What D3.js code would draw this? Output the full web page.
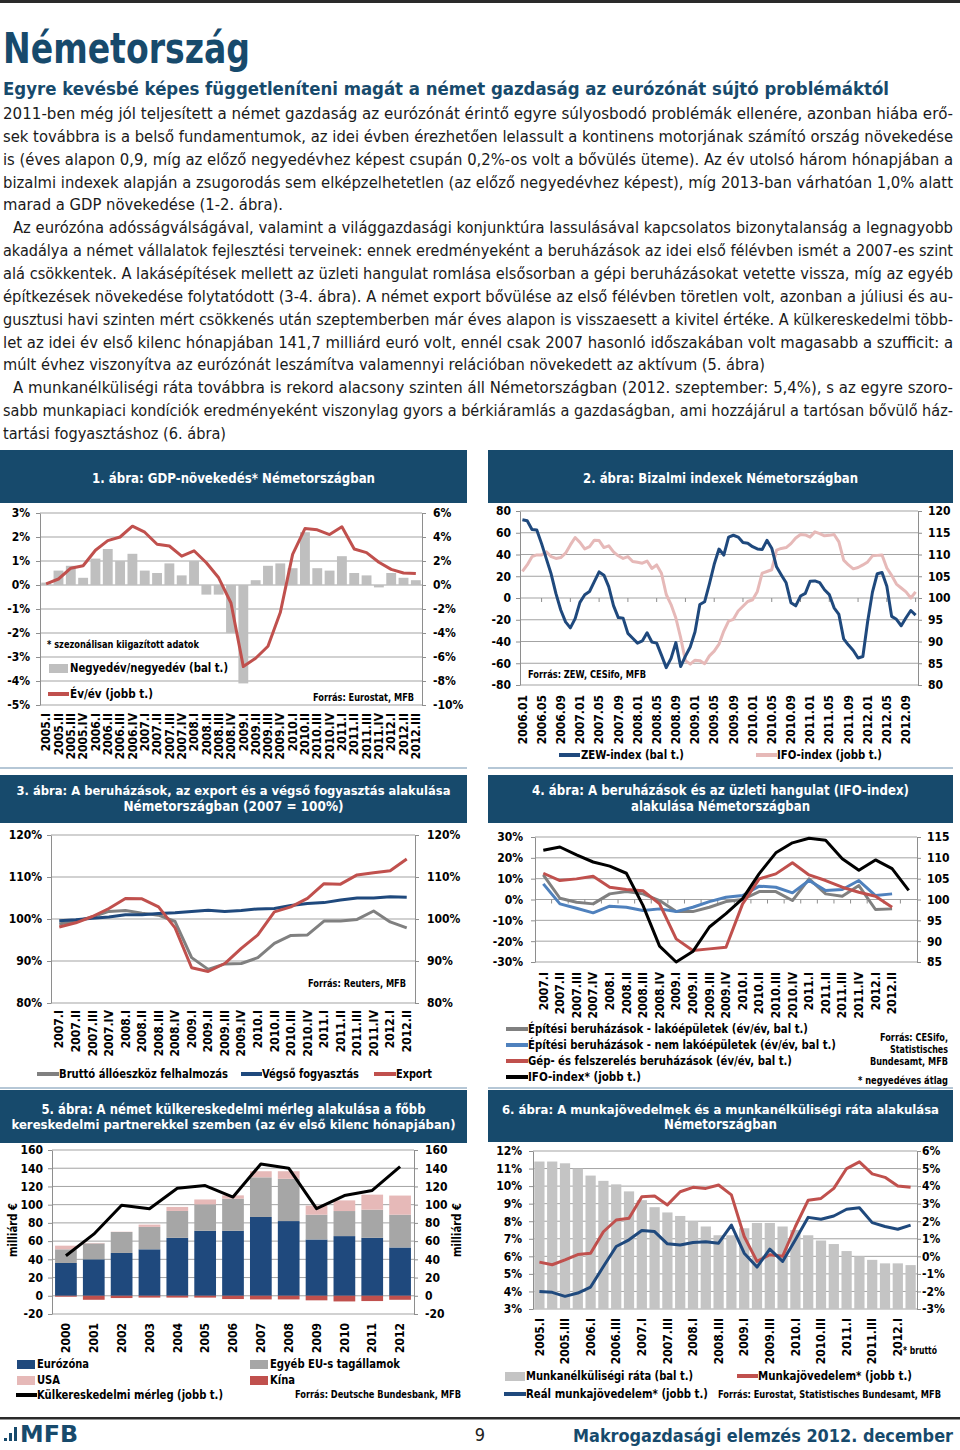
<!DOCTYPE html>
<html><head><meta charset="utf-8">
<script src="https://cdn.jsdelivr.net/npm/d3@7"></script>
<style>body{margin:0;background:#fff}svg{display:block}</style>
</head><body>
<svg id="c" width="960" height="1450"></svg>
<script>
// ---------------- DATA ----------------
const gdpQuarters = ["2005.I","2005.II","2005.III","2005.IV","2006.I","2006.II","2006.III","2006.IV","2007.I","2007.II","2007.III","2007.IV","2008.I","2008.II","2008.III","2008.IV","2009.I","2009.II","2009.III","2009.IV","2010.I","2010.II","2010.III","2010.IV","2011.I","2011.II","2011.III","2011.IV","2012.I","2012.II","2012.III"];
const gdpQoQ = [0.1,0.6,0.8,0.3,1.1,1.5,1.0,1.3,0.6,0.5,0.9,0.4,1.0,-0.4,-0.4,-2.0,-4.1,0.2,0.8,0.9,0.7,2.2,0.7,0.6,1.2,0.5,0.4,-0.1,0.5,0.3,0.2];
const gdpYoY = [0.1,0.5,1.4,1.6,2.9,3.7,4.0,4.9,4.4,3.4,3.25,2.4,2.85,1.85,0.6,-1.5,-6.8,-6.1,-5.1,-2.3,2.55,4.7,4.6,4.2,4.85,3.0,2.7,1.9,1.3,1.0,0.95];
const gdpTicksL = [3,2,1,0,-1,-2,-3,-4,-5];
const gdpTicksR = [6,4,2,0,-2,-4,-6,-8,-10];

const sentYears = ["2006","2007","2008","2009","2010","2011","2012"];
const sentMonthNums = ["01","02","03","04","05","06","07","08","09","10","11","12"];
const zew = [72,71,63,62.5,50,36,22,4,-11,-22,-27.5,-19,
  -4,3,6,15,24,21,10.5,-7,-18,-18.5,-32.5,-37,
  -41.5,-39.5,-32,-40.5,-41.5,-52.5,-64,-55.5,-41,-63,-53.5,-45,
  -31,-6,-3.5,13,31,45,39.5,56,57.7,56,51,50.4,
  47.2,45.1,44.5,53,45.8,28.7,21.2,14,-4.3,-7.2,1.8,4.3,
  15.4,15.7,14.1,7.6,3.1,-9,-15.1,-37.6,-43.3,-48.3,-55.2,-53.8,
  -21.6,5.4,22.3,23.4,10.8,-16.9,-19.6,-25.5,-18.2,-11.5,-15.7];
const ifo = [106.1,107.6,109.5,109.9,109.9,110.6,109.5,109.1,109.3,110.3,112.2,113.9,
  112.8,111.3,111.8,113.3,113.2,111.6,112.0,110.6,109.7,109.1,109.5,108.4,
  108.2,108.0,108.5,106.8,107.6,105.7,100.8,98.5,95.4,90.9,85.6,84.8,
  85.7,85.6,84.9,86.7,87.8,89.4,92.4,94.7,95.1,97.0,98.1,99.2,
  99.6,101.5,105.7,106.1,106.5,111.0,111.4,111.6,112.5,113.8,114.6,114.5,
  114.0,115.2,114.8,114.3,114.4,114.6,112.9,108.7,107.6,106.7,107.0,107.6,
  108.3,109.7,109.8,109.9,106.9,105.2,103.2,102.3,101.4,100.0,101.4];
const sentTicksL = [80,60,40,20,0,-20,-40,-60,-80];
const sentTicksR = [120,115,110,105,100,95,90,85,80];

const invQuarters = ["2007.I","2007.II","2007.III","2007.IV","2008.I","2008.II","2008.III","2008.IV","2009.I","2009.II","2009.III","2009.IV","2010.I","2010.II","2010.III","2010.IV","2011.I","2011.II","2011.III","2011.IV","2012.I","2012.II"];
const brutto = [98.8,99.5,100.5,101.8,102.0,101.4,100.9,99.4,90.8,88.0,89.3,89.4,90.8,94.2,96.1,96.2,99.5,99.5,99.9,101.9,99.3,97.9];
const vegso = [99.6,99.8,100.2,100.5,101.0,101.0,101.3,101.5,101.8,102.1,101.8,102.0,102.4,102.5,103.2,103.7,103.9,104.5,105.0,105.0,105.3,105.2];
const exportIdx = [98.1,99.1,100.6,102.5,104.9,104.8,102.9,97.9,88.4,87.5,89.4,93.0,96.2,101.7,102.9,104.9,108.4,108.3,110.5,111.0,111.5,114.3];
const invTicks = [120,110,100,90,80];

const ifoQuarters = ["2007.I","2007.II","2007.III","2007.IV","2008.I","2008.II","2008.III","2008.IV","2009.I","2009.II","2009.III","2009.IV","2010.I","2010.II","2010.III","2010.IV","2011.I","2011.II","2011.III","2011.IV","2012.I","2012.II","2012.III"];
const lakoEp = [11.8,0.6,-1.3,-2.1,2.7,3.8,2.7,-0.5,-5.8,-5.8,-3.7,-1.0,0.0,3.8,3.8,-0.5,9.9,2.7,1.6,6.7,-4.8,-4.5];
const nemLakoEp = [7.5,-2.1,-4.2,-6.4,-3.2,-3.7,-5.3,-4.5,-5.8,-3.7,-1.0,1.1,1.9,6.4,5.9,3.2,9.1,4.3,4.8,9.1,1.9,2.7];
const gepBeruh = [12.6,9.1,9.9,11.2,5.9,4.8,4.2,-2.1,-18.9,-24.5,-23.7,-22.9,-2.1,9.9,12.3,17.6,11.8,9.1,5.9,3.5,1.6,-3.7];
const ifoQuarterly = [111.8,112.6,110.7,109.0,108.0,106.3,98.6,88.8,85.0,87.5,93.4,96.6,100.2,106.2,111.2,113.6,114.7,114.2,109.8,107.0,109.5,107.4,102.2];
const c4TicksL = [30,20,10,0,-10,-20,-30];
const c4TicksR = [115,110,105,100,95,90,85];

const tradeYears = ["2000","2001","2002","2003","2004","2005","2006","2007","2008","2009","2010","2011","2012"];
const tradeEuro = [36,40,47,51,63.6,71.3,71.3,86.5,82,61.8,65.5,63.6,53];
const tradeOtherEU = [15,17.5,23,24.6,29.5,29,35.3,43.5,46.4,27.2,27.5,30.9,36];
const tradeUSA = [4,0.5,0.3,2.5,4.4,5.4,3.6,6.7,8.3,10,11.7,16.5,21];
const tradeChina = [-1,-4.4,-2.5,-2,-2,-2,-3.6,-4,-4,-5,-6.2,-5.8,-4.4];
const tradeBalance = [44,67.6,99.3,95.6,118,121,108.4,144.7,140,95.6,110,115.6,141.7];
const tradeTicks = [160,140,120,100,80,60,40,20,0,-20];

const labQuarters = ["2005.I","2005.II","2005.III","2005.IV","2006.I","2006.II","2006.III","2006.IV","2007.I","2007.II","2007.III","2007.IV","2008.I","2008.II","2008.III","2008.IV","2009.I","2009.II","2009.III","2009.IV","2010.I","2010.II","2010.III","2010.IV","2011.I","2011.II","2011.III","2011.IV","2012.I","2012.II"];
const unemployment = [11.4,11.4,11.3,11.0,10.6,10.3,10.1,9.7,9.2,8.8,8.5,8.3,8.0,7.7,7.2,7.2,7.6,7.9,7.9,7.7,7.5,7.2,6.9,6.7,6.3,6.0,5.8,5.6,5.6,5.5];
const wages = [-0.33,-0.48,-0.2,0.1,0.18,1.4,2.07,2.17,3.4,3.44,2.93,3.68,3.93,3.87,4.06,3.5,1.13,-0.29,0.09,0.0,1.7,3.2,3.3,3.87,5.0,5.38,4.7,4.5,4.0,3.93];
const realWages = [-2.0,-2.05,-2.28,-2.09,-1.75,-0.58,0.56,0.94,1.47,1.41,0.71,0.65,0.79,0.83,0.75,1.78,0.18,-0.61,0.41,-0.29,0.94,2.22,2.11,2.3,2.68,2.77,1.92,1.7,1.54,1.78];
const c6TicksL = [12,11,10,9,8,7,6,5,4,3];
const c6TicksR = [6,5,4,3,2,1,0,-1,-2,-3];

const bodyLines = [
 "2011-ben még jól teljesített a német gazdaság az eurózónát érintő egyre súlyosbodó problémák ellenére, azonban hiába erő-",
 "sek továbbra is a belső fundamentumok, az idei évben érezhetően lelassult a kontinens motorjának számító ország növekedése",
 "is (éves alapon 0,9, míg az előző negyedévhez képest csupán 0,2%-os volt a bővülés üteme). Az év utolsó három hónapjában a",
 "bizalmi indexek alapján a zsugorodás sem elképzelhetetlen (az előző negyedévhez képest), míg 2013-ban várhatóan 1,0% alatt",
 "marad a GDP növekedése (1-2. ábra).",
 "Az eurózóna adósságválságával, valamint a világgazdasági konjunktúra lassulásával kapcsolatos bizonytalanság a legnagyobb",
 "akadálya a német vállalatok fejlesztési terveinek: ennek eredményeként a beruházások az idei első félévben ismét a 2007-es szint",
 "alá csökkentek. A lakásépítések mellett az üzleti hangulat romlása elsősorban a gépi beruházásokat vetette vissza, míg az egyéb",
 "építkezések növekedése folytatódott (3-4. ábra). A német export bővülése az első félévben töretlen volt, azonban a júliusi és au-",
 "gusztusi havi szinten mért csökkenés után szeptemberben már éves alapon is visszaesett a kivitel értéke. A külkereskedelmi több-",
 "let az idei év első kilenc hónapjában 141,7 milliárd euró volt, ennél csak 2007 hasonló időszakában volt magasabb a szufficit: a",
 "múlt évhez viszonyítva az eurózónát leszámítva valamennyi relációban növekedett az aktívum (5. ábra)",
 "A munkanélküliségi ráta továbbra is rekord alacsony szinten áll Németországban (2012. szeptember: 5,4%), s az egyre szoro-",
 "sabb munkapiaci kondíciók eredményeként viszonylag gyors a bérkiáramlás a gazdaságban, ami hozzájárul a tartósan bővülő ház-",
 "tartási fogyasztáshoz (6. ábra)"
];

// ---------------- DRAWING ----------------
const F = "'DejaVu Sans Condensed','DejaVu Sans',sans-serif";
const NAVY = "#174a6c";
const GRID = "#a3a3a3";
const AXC = "#8e8e8e";
const svg = d3.select("#c");
svg.append("rect").attr("width",960).attr("height",1450).attr("fill","#fff");

function T(p, x, y, s, o = {}) {
  const t = p.append("text").attr("x", x).attr("y", y).text(s)
    .attr("font-family", o.family || F).attr("font-size", o.size || 12)
    .attr("font-weight", o.weight || "bold").attr("fill", o.fill || "#000")
    .attr("text-anchor", o.anchor || "start");
  if (o.w) t.attr("textLength", o.w).attr("lengthAdjust", "spacingAndGlyphs");
  if (o.tr) t.attr("transform", o.tr);
  return t;
}

// header
svg.append("rect").attr("x",0).attr("y",0).attr("width",960).attr("height",3).attr("fill","#2a2a2a");
T(svg, 3, 63, "Németország", {size:42, fill:NAVY, w:247});
T(svg, 3, 95, "Egyre kevésbé képes függetleníteni magát a német gazdaság az eurózónát sújtó problémáktól", {size:17, fill:NAVY, w:886});
const bodyX = [3,3,3,3,3,13,3,3,3,3,3,3,13,3,3];
const bodyW = [950,950,950,950,280,940,950,950,950,950,950,762,940,950,223];
bodyLines.forEach((s,i) => T(svg, bodyX[i], 119 + i*22.86, s, {size:15.5, weight:"normal", fill:"#1a1a1a", w:bodyW[i]}));

// footer
svg.append("rect").attr("x",0).attr("y",1417).attr("width",960).attr("height",2.5).attr("fill","#2a2a2a");
[[4,1438,3,3],[9,1433,3,8],[14,1427,3,14]].forEach(r => svg.append("rect").attr("x",r[0]).attr("y",r[1]).attr("width",r[2]).attr("height",r[3]).attr("fill",NAVY));
T(svg, 20, 1442, "MFB", {size:23, fill:NAVY, w:58});
T(svg, 480, 1441, "9", {size:18, weight:"normal", anchor:"middle", fill:"#222"});
T(svg, 953, 1442, "Makrogazdasági elemzés 2012. december", {size:18, fill:NAVY, anchor:"end", w:380});

function banner(x, y, w, h, lines, widths, ys, sizes) {
  svg.append("rect").attr("x",x).attr("y",y).attr("width",w).attr("height",h).attr("fill",NAVY);
  lines.forEach((s,i) => T(svg, x + w/2, ys[i], s, {size:(sizes ? sizes[i] : 14), fill:"#fff", anchor:"middle", w:widths[i]}));
}
function sep(x1, x2, y) {
  svg.append("line").attr("x1",x1).attr("x2",x2).attr("y1",y).attr("y2",y).attr("stroke","#9db5c9").attr("stroke-width",1.5);
}

function plot(c) {
  const g = svg.append("g");
  const yL = d3.scaleLinear().domain(c.domL).range([c.y1, c.y0]);
  const yR = d3.scaleLinear().domain(c.domR).range([c.y1, c.y0]);
  const xb = d3.scaleBand().domain(c.cats).range([c.x0, c.x1]).padding(0);
  const xc = i => xb(c.cats[i]) + xb.bandwidth()/2;
  g.selectAll("line.grid").data(c.ticksL).join("line")
    .attr("x1", c.x0).attr("x2", c.x1).attr("y1", d => yL(d)).attr("y2", d => yL(d))
    .attr("stroke", GRID).attr("stroke-width", 1);
  const layer = g.append("g");
  const aL = d3.axisLeft(yL).tickValues(c.ticksL).tickFormat(c.fmtL).tickSize(4).tickSizeOuter(0).tickPadding(c.padL - 4);
  const aR = d3.axisRight(yR).tickValues(c.ticksR).tickFormat(c.fmtR).tickSize(4).tickSizeOuter(0).tickPadding(c.padR - 4);
  [[aL, c.x0], [aR, c.x1]].forEach(([a, x]) => {
    const ag = g.append("g").attr("transform", `translate(${x},0)`).call(a);
    ag.select(".domain").attr("stroke", AXC);
    ag.selectAll(".tick line").attr("stroke", AXC);
    ag.selectAll("text").attr("font-family", F).attr("font-size", 12).attr("font-weight", "bold").attr("fill", "#000");
  });
  const ax = d3.axisBottom(xb).tickValues(c.cats.filter(c.labFilter || (() => true))).tickSize(0).tickPadding(0)
    .tickFormat(d => (c.hide && c.hide.includes(d)) ? "" : d);
  const cg = g.append("g").attr("transform", `translate(0,${c.labTop})`).call(ax);
  cg.select(".domain").remove();
  cg.selectAll("text").attr("transform", "rotate(-90)").attr("x", 0).attr("y", 0).attr("dy", "0.35em")
    .attr("text-anchor", "end").attr("font-family", F).attr("font-size", 12).attr("font-weight", "bold").attr("fill", "#000");
  const top = g.append("g");
  return {g, layer, top, yL, yR, xb, xc};
}
function line(p, data, xc, y, color, w = 3) {
  p.append("path").datum(data)
    .attr("d", d3.line().x((d,i) => xc(i)).y(d => y(d)))
    .attr("fill", "none").attr("stroke", color).attr("stroke-width", w)
    .attr("stroke-linejoin", "round").attr("stroke-linecap", "butt");
}
function legLine(x1, x2, y, color) {
  svg.append("line").attr("x1",x1).attr("x2",x2).attr("y1",y).attr("y2",y).attr("stroke",color).attr("stroke-width",4);
}
function legRect(x, y, w, h, color) {
  svg.append("rect").attr("x",x).attr("y",y).attr("width",w).attr("height",h).attr("fill",color);
}
const pct = d => d + "%";

// ---------- Chart 1 ----------
banner(0, 450, 467, 53, ["1. ábra: GDP-növekedés* Németországban"], [283], [483]);
{
  const p = plot({x0:40, x1:422, y0:513, y1:705, cats:gdpQuarters, domL:[-5,3], domR:[-10,6],
    ticksL:gdpTicksL, ticksR:gdpTicksR, fmtL:pct, fmtR:pct, padL:10, padR:11, labTop:713});
  const bw = p.xb.bandwidth()*0.8;
  p.layer.selectAll("rect").data(gdpQoQ).join("rect")
    .attr("x", (d,i) => p.xc(i) - bw/2).attr("width", bw)
    .attr("y", d => p.yL(Math.max(0,d))).attr("height", d => Math.abs(p.yL(d) - p.yL(0)))
    .attr("fill", "#bfbfbf");
  line(p.top, gdpYoY, p.xc, p.yR, "#c0504d", 3);
  T(svg, 47, 648, "* szezonálisan kiigazított adatok", {size:10.5, w:152});
  legRect(49, 664, 19, 9, "#bfbfbf");
  T(svg, 70, 672, "Negyedév/negyedév (bal t.)", {size:12.5, w:158});
  legLine(48, 69, 694, "#c0504d");
  T(svg, 70, 698, "Év/év (jobb t.)", {size:12.5, w:83});
  T(svg, 414, 701, "Forrás: Eurostat, MFB", {size:10, anchor:"end", w:101});
}
sep(0, 467, 768);

// ---------- Chart 2 ----------
banner(488, 450, 465, 53, ["2. ábra: Bizalmi indexek Németországban"], [275], [483]);
{
  const months = [];
  sentYears.forEach(y => sentMonthNums.forEach(m => months.push(y + "." + m)));
  const cats = months.slice(0, zew.length);
  const p = plot({x0:520, x1:918, y0:511, y1:685, cats, domL:[-80,80], domR:[80,120],
    ticksL:sentTicksL, ticksR:sentTicksR, fmtL:String, fmtR:String, padL:9, padR:10, labTop:695,
    labFilter:(d) => cats.indexOf(d) % 4 === 0});
  const tickIdx = cats.map((d,i) => i).filter(i => i % 6 === 4);
  p.layer.selectAll("line").data(tickIdx).join("line")
    .attr("x1", i => p.xc(i)).attr("x2", i => p.xc(i)).attr("y1", p.yL(0)).attr("y2", p.yL(0) + 4)
    .attr("stroke", AXC);
  line(p.top, ifo, p.xc, p.yR, "#e6b9b8", 3);
  line(p.top, zew, p.xc, p.yL, "#1f497d", 3);
  T(svg, 528, 678, "Forrás: ZEW, CESifo, MFB", {size:10.5, w:118});
  legLine(559, 580, 755, "#1f497d");
  T(svg, 581, 759, "ZEW-index (bal t.)", {size:12.5, w:103});
  legLine(756, 777, 755, "#e6b9b8");
  T(svg, 777, 759, "IFO-index (jobb t.)", {size:12.5, w:105});
}
sep(488, 953, 768);

// ---------- Chart 3 ----------
banner(0, 775, 467, 48, ["3. ábra: A beruházások, az export és a végső fogyasztás alakulása", "Németországban (2007 = 100%)"], [434, 220], [795, 811], [12.5, 14]);
{
  const p = plot({x0:51, x1:415, y0:835, y1:1003, cats:invQuarters, domL:[80,120], domR:[80,120],
    ticksL:invTicks, ticksR:invTicks, fmtL:pct, fmtR:pct, padL:9, padR:12, labTop:1010});
  line(p.top, brutto, p.xc, p.yL, "#808080", 3);
  line(p.top, vegso, p.xc, p.yL, "#1f497d", 3);
  line(p.top, exportIdx, p.xc, p.yL, "#c0504d", 3);
  T(svg, 406, 987, "Forrás: Reuters, MFB", {size:10, anchor:"end", w:98});
  legLine(37, 59, 1074, "#808080");
  T(svg, 59, 1078, "Bruttó állóeszköz felhalmozás", {size:12.5, w:169});
  legLine(241, 262, 1074, "#1f497d");
  T(svg, 262, 1078, "Végső fogyasztás", {size:12.5, w:97});
  legLine(374, 396, 1074, "#c0504d");
  T(svg, 396, 1078, "Export", {size:12.5, w:36});
}
sep(0, 467, 1088);

// ---------- Chart 4 ----------
banner(488, 775, 465, 48, ["4. ábra: A beruházások és az üzleti hangulat (IFO-index)", "alakulása Németországban"], [377, 179], [795, 811]);
{
  const p = plot({x0:535, x1:917, y0:837, y1:962, cats:ifoQuarters, domL:[-30,30], domR:[85,115],
    ticksL:c4TicksL, ticksR:c4TicksR, fmtL:pct, fmtR:String, padL:12, padR:10, labTop:972, hide:["2012.III"]});
  const bounds = ifoQuarters.slice(1).map(d => p.xb(d));
  p.layer.selectAll("line").data(bounds).join("line")
    .attr("x1", d => d).attr("x2", d => d).attr("y1", p.yL(0)).attr("y2", p.yL(0) + 4).attr("stroke", AXC);
  line(p.top, lakoEp, p.xc, p.yL, "#808080", 3);
  line(p.top, nemLakoEp, p.xc, p.yL, "#4f81bd", 3);
  line(p.top, gepBeruh, p.xc, p.yL, "#c0504d", 3);
  line(p.top, ifoQuarterly, p.xc, p.yR, "#000000", 3);
  const leg = [["Építési beruházások - lakóépületek (év/év, bal t.)", "#808080", 280],
               ["Építési beruházások - nem lakóépületek (év/év, bal t.)", "#4f81bd", 308],
               ["Gép- és felszerelés beruházások (év/év, bal t.)", "#c0504d", 264],
               ["IFO-index* (jobb t.)", "#000000", 113]];
  leg.forEach((l,i) => {
    const y = 1029 + i*16;
    legLine(506, 528, y, l[1]);
    T(svg, 528, y + 4, l[0], {size:12.5, w:l[2]});
  });
  T(svg, 948, 1041, "Forrás: CESifo,", {size:10, anchor:"end", w:68});
  T(svg, 948, 1053, "Statistisches", {size:10, anchor:"end", w:58});
  T(svg, 948, 1065, "Bundesamt, MFB", {size:10, anchor:"end", w:78});
  T(svg, 948, 1084, "* negyedéves átlag", {size:10, anchor:"end", w:90});
}
sep(488, 953, 1088);

// ---------- Chart 5 ----------
banner(0, 1090, 467, 53, ["5. ábra: A német külkereskedelmi mérleg alakulása a főbb", "kereskedelmi partnerekkel szemben (az év első kilenc hónapjában)"], [384, 444], [1114, 1129], [14, 12.5]);
{
  const p = plot({x0:52, x1:414, y0:1150, y1:1314, cats:tradeYears, domL:[-20,160], domR:[-20,160],
    ticksL:tradeTicks, ticksR:tradeTicks, fmtL:String, fmtR:String, padL:9, padR:11, labTop:1323});
  const rows = tradeYears.map((y,i) => ({year:y, euro:tradeEuro[i], other:tradeOtherEU[i], usa:tradeUSA[i]}));
  const stack = d3.stack().keys(["euro","other","usa"])(rows);
  const colors = {euro:"#1f497d", other:"#a6a6a6", usa:"#e6b9b8"};
  const bw = p.xb.bandwidth()*0.78;
  stack.forEach(s => {
    p.layer.append("g").selectAll("rect").data(s).join("rect")
      .attr("x", d => p.xb(d.data.year) + (p.xb.bandwidth()-bw)/2).attr("width", bw)
      .attr("y", d => p.yL(d[1])).attr("height", d => p.yL(d[0]) - p.yL(d[1]))
      .attr("fill", colors[s.key]);
  });
  p.layer.append("g").selectAll("rect").data(tradeChina).join("rect")
    .attr("x", (d,i) => p.xc(i) - bw/2).attr("width", bw)
    .attr("y", p.yL(0)).attr("height", d => p.yL(d) - p.yL(0)).attr("fill", "#c0504d");
  line(p.top, tradeBalance, p.xc, p.yR, "#000000", 3);
  T(svg, 0, 0, "milliárd €", {size:12, anchor:"middle", w:54, tr:"translate(17,1230) rotate(-90)"});
  T(svg, 0, 0, "milliárd €", {size:12, anchor:"middle", w:54, tr:"translate(461,1230) rotate(-90)"});
  legRect(17, 1360, 18, 9, "#1f497d");
  T(svg, 37, 1368, "Eurózóna", {size:12.5, w:52});
  legRect(250, 1360, 18, 9, "#a6a6a6");
  T(svg, 270, 1368, "Egyéb EU-s tagállamok", {size:12.5, w:130});
  legRect(17, 1376, 18, 9, "#e6b9b8");
  T(svg, 37, 1384, "USA", {size:12.5, w:23});
  legRect(250, 1376, 18, 9, "#c0504d");
  T(svg, 270, 1384, "Kína", {size:12.5, w:25});
  legLine(16, 37, 1395, "#000000");
  T(svg, 37, 1399, "Külkereskedelmi mérleg (jobb t.)", {size:12.5, w:186});
  T(svg, 461, 1398, "Forrás: Deutsche Bundesbank, MFB", {size:10, anchor:"end", w:166});
}

// ---------- Chart 6 ----------
banner(488, 1090, 465, 52, ["6. ábra: A munkajövedelmek és a munkanélküliségi ráta alakulása", "Németországban"], [437, 113], [1114, 1129], [12, 14]);
{
  const p = plot({x0:533, x1:917, y0:1151, y1:1309, cats:labQuarters, domL:[3,12], domR:[-3,6],
    ticksL:c6TicksL, ticksR:c6TicksR, fmtL:pct, fmtR:pct, padL:11, padR:5, labTop:1318,
    labFilter:(d) => labQuarters.indexOf(d) % 2 === 0});
  const bw = p.xb.bandwidth()*0.8;
  p.layer.selectAll("rect").data(unemployment).join("rect")
    .attr("x", (d,i) => p.xc(i) - bw/2).attr("width", bw)
    .attr("y", d => p.yL(d)).attr("height", d => p.yL(3) - p.yL(d)).attr("fill", "#c4c4c4");
  line(p.top, wages, p.xc, p.yR, "#c0504d", 3);
  line(p.top, realWages, p.xc, p.yR, "#1f497d", 3);
  T(svg, 903, 1354, "* bruttó", {size:10, w:34});
  legRect(505, 1372, 20, 9, "#c4c4c4");
  T(svg, 526, 1380, "Munkanélküliségi ráta (bal t.)", {size:12.5, w:167});
  legLine(737, 758, 1376, "#c0504d");
  T(svg, 758, 1380, "Munkajövedelem* (jobb t.)", {size:12.5, w:154});
  legLine(504, 526, 1394, "#1f497d");
  T(svg, 526, 1398, "Reál munkajövedelem* (jobb t.)", {size:12.5, w:182});
  T(svg, 718, 1398, "Forrás: Eurostat, Statistisches Bundesamt, MFB", {size:10, w:223});
}
</script>
</body></html>
